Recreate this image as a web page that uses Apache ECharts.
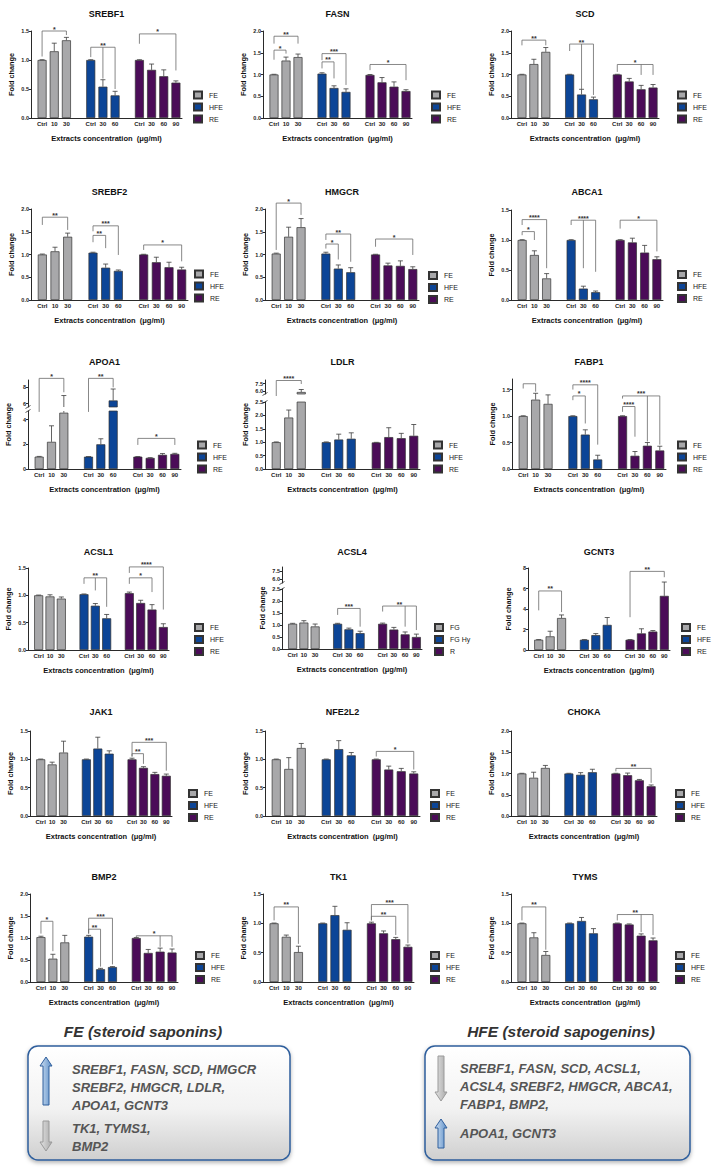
<!DOCTYPE html>
<html><head><meta charset="utf-8">
<script src="https://cdn.jsdelivr.net/npm/echarts@6/dist/echarts.min.js"></script>
<style>html,body{margin:0;padding:0;background:#fff}#c{width:719px;height:1175px}</style>
</head><body><div id="c"></div>
<script>
// ---------- categories ----------
const feLabels = ['Ctrl', '10', '30'];
const hfeLabels = ['Ctrl', '30', '60'];
const reLabels = ['Ctrl', '30', '60', '90'];
const legendStd = ['FE', 'HFE', 'RE'];
const legendAcsl4 = ['FG', 'FG Hy', 'R'];
const xTitle = 'Extracts concentration  (\u03bcg/ml)';
const yTitle = 'Fold change';

// ---------- values: FE(Ctrl,10,30), HFE(Ctrl,30,60), RE(Ctrl,30,60,90) ----------
const srebf1Mean = [1.0, 1.15, 1.34, 1.0, 0.54, 0.39, 1.0, 0.83, 0.72, 0.61];
const srebf1Err  = [0.005, 0.14, 0.05, 0.005, 0.12, 0.07, 0.005, 0.10, 0.11, 0.03];
const fasnMean = [1.0, 1.32, 1.40, 1.02, 0.69, 0.60, 0.99, 0.82, 0.72, 0.62];
const fasnErr  = [0.005, 0.08, 0.07, 0.02, 0.05, 0.07, 0.01, 0.11, 0.11, 0.03];
const scdMean = [1.0, 1.24, 1.52, 1.0, 0.54, 0.43, 1.0, 0.84, 0.66, 0.70];
const scdErr  = [0.005, 0.11, 0.10, 0.005, 0.12, 0.05, 0.005, 0.07, 0.09, 0.07];
const srebf2Mean = [1.0, 1.07, 1.39, 1.04, 0.71, 0.64, 1.0, 0.83, 0.72, 0.67];
const srebf2Err  = [0.01, 0.09, 0.08, 0.01, 0.08, 0.02, 0.005, 0.11, 0.11, 0.05];
const hmgcrMean = [1.02, 1.39, 1.60, 1.02, 0.69, 0.61, 1.0, 0.76, 0.75, 0.68];
const hmgcrErr  = [0.01, 0.21, 0.19, 0.03, 0.08, 0.10, 0.005, 0.05, 0.11, 0.05];
const abca1Mean = [1.0, 0.75, 0.36, 1.0, 0.19, 0.13, 1.0, 0.96, 0.79, 0.68];
const abca1Err  = [0.005, 0.07, 0.08, 0.005, 0.04, 0.02, 0.005, 0.07, 0.12, 0.04];
const apoa1Mean = [1.0, 2.2, 4.56, 1.0, 2.0, 6.4, 1.0, 0.9, 1.15, 1.22];
const apoa1Err  = [0.02, 1.3, 2.44, 0.01, 0.45, 1.4, 0.01, 0.02, 0.10, 0.05];
const ldlrMean = [1.0, 1.92, 5.8, 1.0, 1.10, 1.13, 0.99, 1.19, 1.15, 1.24];
const ldlrErr  = [0.01, 0.28, 0.5, 0.01, 0.20, 0.22, 0.005, 0.35, 0.18, 0.42];
const fabp1Mean = [1.0, 1.31, 1.23, 1.0, 0.65, 0.18, 1.0, 0.25, 0.44, 0.35];
const fabp1Err  = [0.005, 0.12, 0.17, 0.005, 0.09, 0.08, 0.005, 0.08, 0.06, 0.08];
const acsl1Mean = [1.0, 0.98, 0.94, 1.02, 0.81, 0.58, 1.04, 0.86, 0.74, 0.42];
const acsl1Err  = [0.005, 0.03, 0.03, 0.005, 0.04, 0.07, 0.02, 0.05, 0.09, 0.06];
const acsl4Mean = [1.05, 1.10, 0.94, 1.05, 0.82, 0.66, 1.05, 0.81, 0.61, 0.50];
const acsl4Err  = [0.02, 0.08, 0.10, 0.02, 0.05, 0.08, 0.03, 0.09, 0.10, 0.12];
const gcnt3Mean = [1.0, 1.33, 3.12, 1.0, 1.45, 2.45, 1.0, 1.62, 1.80, 5.28];
const gcnt3Err  = [0.02, 0.5, 0.3, 0.02, 0.15, 0.72, 0.02, 0.45, 0.10, 1.35];
const jak1Mean = [1.0, 0.91, 1.12, 1.0, 1.19, 1.10, 1.0, 0.85, 0.74, 0.71];
const jak1Err  = [0.005, 0.04, 0.20, 0.005, 0.20, 0.05, 0.02, 0.02, 0.03, 0.03];
const nfe2l2Mean = [1.0, 0.83, 1.20, 1.0, 1.18, 1.07, 1.0, 0.82, 0.79, 0.75];
const nfe2l2Err  = [0.005, 0.20, 0.08, 0.005, 0.15, 0.05, 0.005, 0.06, 0.05, 0.03];
const chokaMean = [1.0, 0.90, 1.13, 1.0, 0.97, 1.03, 1.0, 0.96, 0.84, 0.70];
const chokaErr  = [0.005, 0.13, 0.06, 0.005, 0.05, 0.07, 0.005, 0.05, 0.02, 0.03];
const bmp2Mean = [1.02, 0.53, 0.90, 1.03, 0.29, 0.34, 1.0, 0.66, 0.69, 0.67];
const bmp2Err  = [0.02, 0.10, 0.16, 0.03, 0.02, 0.01, 0.01, 0.08, 0.08, 0.08];
const tk1Mean = [1.0, 0.77, 0.51, 1.0, 1.14, 0.89, 1.0, 0.83, 0.73, 0.60];
const tk1Err  = [0.005, 0.03, 0.10, 0.005, 0.15, 0.12, 0.02, 0.04, 0.03, 0.03];
const tymsMean = [1.0, 0.76, 0.46, 1.0, 1.04, 0.83, 1.0, 0.98, 0.79, 0.71];
const tymsErr  = [0.005, 0.08, 0.06, 0.005, 0.06, 0.08, 0.005, 0.01, 0.03, 0.04];

// ---------- significance brackets: x = bar slots, y = bracket level, ends = leg bottoms ----------
const srebf1Sig = [{x:[0,2],y:1.5,ends:[1.06,1.43],t:'*'},{x:[4,5,6],y:1.22,ends:[1.05,0.68,0.5],t:'**'},{x:[8,11],y:1.45,ends:[1.28,0.82],t:'*'}];
const fasnSig = [{x:[0,1],y:1.56,ends:[1.34,1.48],t:'*'},{x:[0,2],y:1.88,ends:[1.71,1.71],t:'**'},{x:[4,5],y:1.29,ends:[1.14,0.91],t:'**'},{x:[4,6],y:1.48,ends:[1.33,0.76],t:'***'},{x:[8,11],y:1.23,ends:[1.10,0.87],t:'*'}];
const scdSig = [{x:[0,2],y:1.79,ends:[1.67,1.67],t:'**'},{x:[4,5,6],y:1.70,ends:[1.54,0.66,0.53],t:'**'},{x:[8,10,11],y:1.23,ends:[1.06,0.99,0.99],t:'*'}];
const srebf2Sig = [{x:[0,2],y:1.82,ends:[1.65,1.54],t:'**'},{x:[4,6],y:1.63,ends:[1.51,0.99],t:'***'},{x:[4,5],y:1.42,ends:[1.27,1.14],t:'**'},{x:[8,11],y:1.21,ends:[1.10,0.85],t:'*'}];
const hmgcrSig = [{x:[0,2],y:2.13,ends:[1.10,1.87],t:'*'},{x:[4,6],y:1.45,ends:[1.32,0.84],t:'**'},{x:[4,5],y:1.23,ends:[1.13,0.89],t:'*'},{x:[8,11],y:1.34,ends:[1.17,0.99],t:'*'}];
const abca1Sig = [{x:[0,2],y:1.34,ends:[1.25,0.53],t:'****'},{x:[0,1],y:1.14,ends:[1.08,1.0],t:'*'},{x:[4,5,6],y:1.33,ends:[1.25,0.53,0.47],t:'****'},{x:[8,11],y:1.33,ends:[1.19,0.81],t:'*'}];
const apoa1SigHi = [{x:[0,2],y:9.1,ends:[5.0,7.4],t:'*'},{x:[4,6],y:9.1,ends:[5.0,8.0],t:'**'}];
const apoa1SigLo = [{x:[8,11],y:2.48,ends:[1.95,1.95],t:'*'}];
const ldlrSigHi = [{x:[0,2],y:8.1,ends:[5.0,7.4],t:'****'}];
const fabp1Sig = [{x:[0,1],y:1.61,ends:[1.52,1.46],t:''},{x:[4,6],y:1.59,ends:[1.5,0.46],t:'****'},{x:[4,5],y:1.38,ends:[1.3,0.86],t:'*'},{x:[8,10,11],y:1.38,ends:[1.33,0.52,0.46],t:'***'},{x:[8,9],y:1.18,ends:[1.08,0.61],t:'****'}];
const acsl1Sig = [{x:[4,5,6],y:1.32,ends:[1.21,1.09,0.79],t:'**'},{x:[8,11],y:1.52,ends:[1.41,0.74],t:'****'},{x:[8,10],y:1.32,ends:[1.21,1.06],t:'*'}];
const acsl4Sig = [{x:[4,6],y:1.69,ends:[1.42,0.93],t:'***'},{x:[8,10,11],y:1.79,ends:[1.56,0.93,0.79],t:'**'}];
const gcnt3Sig = [{x:[0,2],y:5.76,ends:[3.87,3.7],t:'**'},{x:[8,11],y:7.67,ends:[3.2,7.1],t:'**'}];
const jak1Sig = [{x:[8,9],y:1.1,ends:[1.05,0.92],t:'**'},{x:[8,11],y:1.3,ends:[1.05,0.8],t:'***'}];
const nfe2l2Sig = [{x:[8,11],y:1.14,ends:[1.05,0.82],t:'*'}];
const chokaSig = [{x:[8,11],y:1.12,ends:[1.05,0.78],t:'**'}];
const bmp2Sig = [{x:[0,1],y:1.38,ends:[1.1,0.7],t:'*'},{x:[4,6],y:1.45,ends:[1.1,0.4],t:'***'},{x:[4,5],y:1.2,ends:[1.1,0.35],t:'**'},{x:[8,10,11],y:1.05,ends:[1.02,0.8,0.8],t:'*'}];
const tk1Sig = [{x:[0,2],y:1.28,ends:[1.05,0.65],t:'**'},{x:[8,11],y:1.32,ends:[1.05,0.66],t:'***'},{x:[8,10],y:1.12,ends:[1.05,0.8],t:'**'}];
const tymsSig = [{x:[0,2],y:1.28,ends:[1.05,0.55],t:'**'},{x:[8,10,11],y:1.15,ends:[1.05,0.85,0.8],t:'**'}];

// ---------- tick labels ----------
const ticks15 = [0, 0.5, 1.0, 1.5];
const ticks20 = [0, 0.5, 1.0, 1.5, 2.0];
const ticks25 = [0, 0.5, 1.0, 1.5, 2.0, 2.5];
const ticksInt8 = [0, 2, 4, 6, 8];
const ticksApoLo = [0, 2, 4];
const ticksApoHi = [6, 8];
const ticksBreakHi = [6.0, 7.5];

// ---------- bottom summary text ----------
const feHeading = 'FE (steroid saponins)';
const hfeHeading = 'HFE (steroid sapogenins)';
const feUp = ['SREBF1, FASN, SCD, HMGCR', 'SREBF2, HMGCR, LDLR,', 'APOA1, GCNT3'];
const feDown = ['TK1, TYMS1,', 'BMP2'];
const hfeDown = ['SREBF1, FASN, SCD, ACSL1,', 'ACSL4, SREBF2, HMGCR, ABCA1,', 'FABP1, BMP2,'];
const hfeUp = ['APOA1, GCNT3'];

// ---------- panels (data refs) + layout (pixel boxes) ----------
const panels = [
 {name:'SREBF1', mean:srebf1Mean, err:srebf1Err, sig:srebf1Sig, max:1.5, ticks:ticks15, leg:legendStd, box:[31,182,31,118], lg:[193,90.5], ty:14},
 {name:'FASN', mean:fasnMean, err:fasnErr, sig:fasnSig, max:2.0, ticks:ticks20, leg:legendStd, box:[263,412,31,118], lg:[431,90.5], ty:14},
 {name:'SCD', mean:scdMean, err:scdErr, sig:scdSig, max:2.0, ticks:ticks20, leg:legendStd, box:[511,659,31,118], lg:[677,90.5], ty:14},
 {name:'SREBF2', mean:srebf2Mean, err:srebf2Err, sig:srebf2Sig, max:2.0, ticks:ticks20, leg:legendStd, box:[31,188,209,300], lg:[194,269.5], ty:192},
 {name:'HMGCR', mean:hmgcrMean, err:hmgcrErr, sig:hmgcrSig, max:2.0, ticks:ticks20, leg:legendStd, box:[265,419,209,300], lg:[428,271], ty:192},
 {name:'ABCA1', mean:abca1Mean, err:abca1Err, sig:abca1Sig, max:1.5, ticks:ticks15, leg:legendStd, box:[511,663,210,300], lg:[677,270], ty:192},
 {name:'APOA1', mean:apoa1Mean, err:apoa1Err, sig:apoa1SigLo, max:4.7, ticks:ticksApoLo, intLab:true, leg:legendStd, box:[28,181,411,469], lg:[197,440.5], ty:362,
   hi:{min:5.6, max:8.9, ticks:ticksApoHi, top:380, bottom:407, sig:apoa1SigHi}},
 {name:'LDLR', mean:ldlrMean, err:ldlrErr, sig:[], max:2.5, ticks:ticks25, leg:legendStd, box:[265,420,402,469], lg:[433,440.5], ty:362,
   hi:{min:5.4, max:8.2, ticks:ticksBreakHi, top:380, bottom:394, sig:ldlrSigHi}},
 {name:'FABP1', mean:fabp1Mean, err:fabp1Err, sig:fabp1Sig, max:1.7, ticks:ticks15, leg:legendStd, box:[512,666,379,469], lg:[677,440.5], ty:362},
 {name:'ACSL1', mean:acsl1Mean, err:acsl1Err, sig:acsl1Sig, max:1.5, ticks:ticks15, leg:legendStd, box:[28,169,568,650], lg:[194,623], ty:552},
 {name:'ACSL4', mean:acsl4Mean, err:acsl4Err, sig:acsl4Sig, max:2.5, ticks:ticks25, leg:legendAcsl4, box:[282,422,589,649], lg:[434,623], ty:552,
   hi:{min:5.25, max:8.25, ticks:ticksBreakHi, top:567, bottom:583, sig:[]}},
 {name:'GCNT3', mean:gcnt3Mean, err:gcnt3Err, sig:gcnt3Sig, max:8, ticks:ticksInt8, intLab:true, leg:legendStd, box:[528,670,568,650], lg:[681,623], ty:552},
 {name:'JAK1', mean:jak1Mean, err:jak1Err, sig:jak1Sig, max:1.5, ticks:ticks15, leg:legendStd, box:[30,172,731,816], lg:[188,789], ty:712},
 {name:'NFE2L2', mean:nfe2l2Mean, err:nfe2l2Err, sig:nfe2l2Sig, max:1.5, ticks:ticks15, leg:legendStd, box:[265,420,731,816], lg:[430,789], ty:712},
 {name:'CHOKA', mean:chokaMean, err:chokaErr, sig:chokaSig, max:2.0, ticks:ticks20, leg:legendStd, box:[511,657,731,816], lg:[675,789], ty:712},
 {name:'BMP2', mean:bmp2Mean, err:bmp2Err, sig:bmp2Sig, max:2.0, ticks:ticks20, leg:legendStd, box:[30,178,894,982], lg:[195,951], ty:877},
 {name:'TK1', mean:tk1Mean, err:tk1Err, sig:tk1Sig, max:1.5, ticks:ticks15, leg:legendStd, box:[263,414,894,982], lg:[430,951], ty:877},
 {name:'TYMS', mean:tymsMean, err:tymsErr, sig:tymsSig, max:1.5, ticks:ticks15, leg:legendStd, box:[511,659,894,982], lg:[675,951], ty:877}
];

const FONT = '"Liberation Sans", Arial, Helvetica, sans-serif';
const COLORS = ['#a8a8aa', '#0c4597', '#4b0c58'];
const AXIS = '#2a2a2a';
const PAD = 5; // gap between y axis line and first category slot
const xCats = [...feLabels, '', ...hfeLabels, ' ', ...reLabels];
const slots = [0, 1, 2, 4, 5, 6, 8, 9, 10, 11];
const groupSlots = [[0,1,2],[3,4,5],[6,7,8,9]];

const option = {animation:false, backgroundColor:'#fff', grid:[], xAxis:[], yAxis:[], series:[], legend:[], graphic:[]};

function errRender(lo, hi) {
  return function (params, api) {
    const x = api.value(0), v = api.value(1), e = api.value(2);
    const a = Math.max(v, lo), b = Math.min(v + e, hi);
    if (b <= a) return null;
    const p0 = api.coord([x, a]), p1 = api.coord([x, b]);
    const st = {stroke:'#3c3c3c', lineWidth:0.8};
    const ch = [{type:'line', shape:{x1:p0[0], y1:p0[1], x2:p1[0], y2:p1[1]}, style:st}];
    if (v + e <= hi) ch.push({type:'line', shape:{x1:p1[0]-2.5, y1:p1[1], x2:p1[0]+2.5, y2:p1[1]}, style:st});
    return {type:'group', children:ch};
  };
}
function sigRender(list) {
  return function (params, api) {
    const b = list[params.dataIndex];
    const legs = b.x.map((x, k) => [api.coord([x, b.y]), api.coord([x, b.ends[k]])]);
    const xs = legs.map(l => l[0][0]);
    const xl = Math.min(...xs), xr = Math.max(...xs), yp = legs[0][0][1];
    const st = {stroke:'#6a6a6a', lineWidth:0.8};
    const ch = [{type:'line', shape:{x1:xl, y1:yp, x2:xr, y2:yp}, style:st}];
    legs.forEach(l => ch.push({type:'line', shape:{x1:l[0][0], y1:yp, x2:l[1][0], y2:l[1][1]}, style:st}));
    if (b.t) ch.push({type:'text', x:(xl+xr)/2, y:yp+1.5, style:{text:b.t, fill:'#333', font:'bold 7px ' + FONT, align:'center', verticalAlign:'bottom'}});
    return {type:'group', children:ch};
  };
}

function addPart(p, box, min, max, ticks, sig, isMain) {
  const gi = option.grid.length;
  option.grid.push({left:box[0] + PAD, top:box[2], width:box[1]-box[0]-PAD, height:box[3]-box[2]});
  option.xAxis.push({
    gridIndex:gi, type:'category', data:xCats, show:isMain,
    axisLine:{lineStyle:{color:AXIS, width:1}},
    axisTick:{alignWithLabel:true, length:2, lineStyle:{color:AXIS}, interval:(i, v) => String(v).trim() !== ''},
    axisLabel:{interval:0, fontSize:6, fontWeight:'bold', color:'#222', margin:3, fontFamily:FONT}
  });
  option.yAxis.push({
    gridIndex:gi, type:'value', min:min, max:max, offset:PAD,
    axisLine:{show:true, lineStyle:{color:AXIS, width:1}},
    axisTick:{show:true, length:2, customValues:ticks, lineStyle:{color:AXIS}},
    axisLabel:{customValues:ticks, fontSize:5.5, fontWeight:'bold', color:'#222', margin:2, fontFamily:FONT,
      formatter:(v) => p.intLab ? String(Math.round(v)) : Number(v).toFixed(1)},
    splitLine:{show:false}
  });
  groupSlots.forEach((idxs, g) => {
    const data = xCats.map(() => '-');
    idxs.forEach(k => { data[slots[k]] = p.mean[k]; });
    option.series.push({type:'bar', name:p.leg[g], xAxisIndex:gi, yAxisIndex:gi, data:data,
      barWidth:9, barGap:'-100%', clip:true, silent:true,
      itemStyle:{color:COLORS[g], borderColor:'#333', borderWidth:0.7}});
  });
  option.series.push({type:'custom', xAxisIndex:gi, yAxisIndex:gi, silent:true, z:5,
    data:p.mean.map((v, k) => [slots[k], v, p.err[k]]), renderItem:errRender(min, max)});
  if (sig && sig.length) {
    option.series.push({type:'custom', xAxisIndex:gi, yAxisIndex:gi, silent:true, z:6, clip:false,
      data:sig.map(b => [b.x[0], b.y]), renderItem:sigRender(sig)});
  }
}

panels.forEach(p => {
  const b = p.box;
  addPart(p, b, 0, p.max, p.ticks, p.sig, true);
  // close the corner between the offset y axis and the x axis line
  option.graphic.push({type:'line', silent:true, shape:{x1:b[0], y1:b[3] + 0.5, x2:b[0] + PAD + 0.5, y2:b[3] + 0.5}, style:{stroke:AXIS, lineWidth:1}});
  let topY = b[2];
  if (p.hi) {
    addPart(p, [b[0], b[1], p.hi.top, p.hi.bottom], p.hi.min, p.hi.max, p.hi.ticks, p.hi.sig, false);
    topY = p.hi.top;
    [b[2], p.hi.bottom].forEach(yb => option.graphic.push({type:'line', silent:true,
      shape:{x1:b[0] - 2.5, y1:yb + 1.5, x2:b[0] + 2.5, y2:yb - 1.5}, style:{stroke:AXIS, lineWidth:0.8}}));
  }
  const cx = (b[0] + b[1]) / 2;
  option.graphic.push({type:'text', x:cx, y:p.ty, silent:true,
    style:{text:p.name, font:'bold 9px ' + FONT, fill:'#111', align:'center', verticalAlign:'middle'}});
  option.graphic.push({type:'text', x:cx, y:b[3] + 20, silent:true,
    style:{text:xTitle, font:'bold 7.5px ' + FONT, fill:'#111', align:'center', verticalAlign:'middle'}});
  option.graphic.push({type:'text', x:b[0] - 20, y:(topY + b[3]) / 2, rotation:Math.PI / 2, silent:true,
    style:{text:yTitle, font:'bold 7.3px ' + FONT, fill:'#111', align:'center', verticalAlign:'middle'}});
  option.legend.push({data:p.leg, orient:'vertical', left:p.lg[0], top:p.lg[1], itemWidth:8, itemHeight:7, itemGap:3,
    icon:'rect', selectedMode:false, padding:0, inactiveColor:'#222',
    textStyle:{fontSize:7, color:'#1a1a1a', fontFamily:FONT, padding:[0,0,0,2]}});
});

// ---------- bottom summary boxes ----------
const boxFill = new echarts.graphic.LinearGradient(0, 0, 0, 1, [{offset:0, color:'#ffffff'}, {offset:0.55, color:'#f2f2f2'}, {offset:1, color:'#cfcfcf'}]);
function upArrow(cx, y0, y1) {
  return {type:'polygon', silent:true, shape:{points:[[cx, y0], [cx+6, y0+9], [cx+3, y0+9], [cx+3, y1], [cx-3, y1], [cx-3, y0+9], [cx-6, y0+9]]},
    style:{fill:new echarts.graphic.LinearGradient(0,0,1,0,[{offset:0,color:'#cfe0f2'},{offset:1,color:'#5d8fc8'}]), stroke:'#2f5e9c', lineWidth:1}};
}
function downArrow(cx, y0, y1) {
  return {type:'polygon', silent:true, shape:{points:[[cx-3, y0], [cx+3, y0], [cx+3, y1-9], [cx+6, y1-9], [cx, y1], [cx-6, y1-9], [cx-3, y1-9]]},
    style:{fill:new echarts.graphic.LinearGradient(0,0,1,0,[{offset:0,color:'#e3e3e3'},{offset:1,color:'#a9a9a9'}]), stroke:'#9a9a9a', lineWidth:1}};
}
function lines(arr, x, y0, dy) {
  return arr.map((t, i) => ({type:'text', x:x, y:y0 + i*dy, silent:true,
    style:{text:t, font:'italic bold 13px ' + FONT, fill:'#555', align:'left', verticalAlign:'middle'}}));
}
option.graphic.push(
  {type:'text', x:143, y:1031, silent:true, style:{text:feHeading, font:'italic bold 15.5px ' + FONT, fill:'#333', align:'center', verticalAlign:'middle'}},
  {type:'text', x:561, y:1031, silent:true, style:{text:hfeHeading, font:'italic bold 15.5px ' + FONT, fill:'#333', align:'center', verticalAlign:'middle'}},
  {type:'rect', silent:true, shape:{x:28, y:1046, width:262, height:114, r:10},
    style:{fill:boxFill, stroke:'#2f5e9c', lineWidth:1.5, shadowBlur:4, shadowOffsetY:2, shadowColor:'rgba(0,0,0,0.3)'}},
  {type:'rect', silent:true, shape:{x:425, y:1046, width:265, height:114, r:10},
    style:{fill:boxFill, stroke:'#2f5e9c', lineWidth:1.5, shadowBlur:4, shadowOffsetY:2, shadowColor:'rgba(0,0,0,0.3)'}},
  upArrow(46, 1057, 1105), downArrow(46, 1121, 1151),
  downArrow(441, 1056, 1101), upArrow(441, 1119, 1148),
  ...lines(feUp, 72, 1069, 18), ...lines(feDown, 72, 1128, 18),
  ...lines(hfeDown, 460, 1068, 18), ...lines(hfeUp, 460, 1133, 18)
);

const chart = echarts.init(document.getElementById('c'), null, {renderer:'svg'});
chart.setOption(option);
</script>
</body></html>
